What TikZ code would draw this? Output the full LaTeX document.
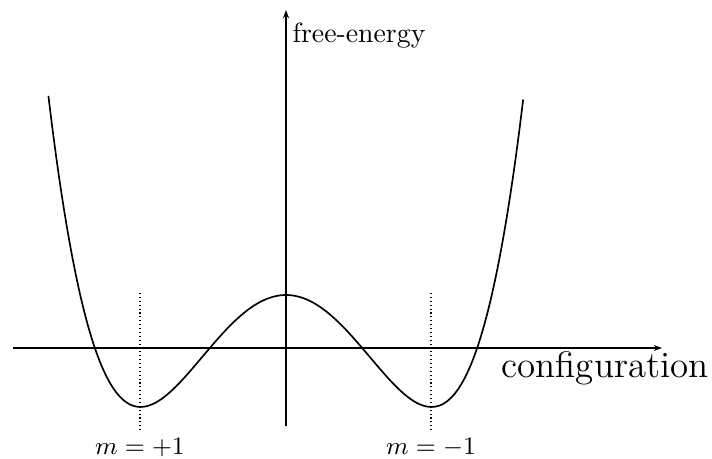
\documentclass[tikz,border=0pt]{standalone}
\usetikzlibrary{arrows.meta, positioning}

\begin{document}
\begin{tikzpicture}[
    x=0.36pt, y=0.36pt,
    axis/.style={draw, thin, -{Stealth[length=3pt, width=2.2pt]}},
    well/.style={draw, semithick},
    guide/.style={draw, thin, densely dotted},
    lbl/.style={inner sep=0pt, anchor=base, font=\fontsize{9.2}{11}\selectfont}
]
\useasboundingbox (-286,-111) rectangle (426,348);

% Axes
\coordinate (xstart) at (-273,0);
\coordinate (xend) at (376,0);
\coordinate (ystart) at (0,-78);
\coordinate (yend) at (0,338);
\draw[axis] (xstart) -- (xend);
\draw[axis] (ystart) -- (yend);

\node[inner sep=0pt, anchor=base west] (energy) at (6,305) {free-energy};
\node[inner sep=0pt, anchor=base west, font=\fontsize{13.3}{16}\selectfont] (config) at (215,-30) {configuration};

% Double well
\draw[well] plot[domain=-1.633:1.630, samples=120, smooth] ({145.5*\x}, {-59+112*(\x*\x-1)^2});

% Minima
\coordinate (lefttop) at (-146,55);
\coordinate (leftbot) at (-146,-84);
\coordinate (righttop) at (145,55);
\coordinate (rightbot) at (145,-84);
\draw[guide] (lefttop) -- (leftbot);
\draw[guide] (righttop) -- (rightbot);
\node[lbl] (plusone) at (-146,-107) {$m=+1$};
\node[lbl] (minusone) at (145,-107) {$m=-1$};

\end{tikzpicture}
\end{document}
